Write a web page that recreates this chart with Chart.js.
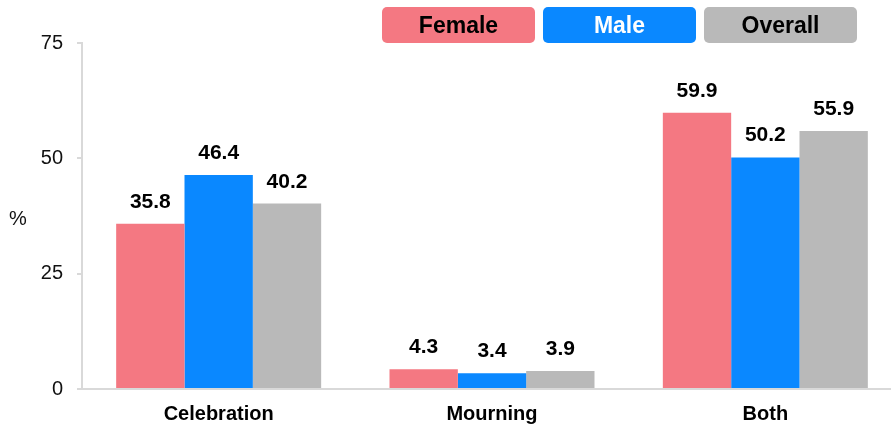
<!DOCTYPE html>
<html>
<head>
<meta charset="utf-8">
<script src="https://cdn.jsdelivr.net/npm/chart.js@4.4.0/dist/chart.umd.min.js"></script>
<style>
  body { margin: 0; overflow: hidden; background: #fff; font-family: "Liberation Sans", Arial, sans-serif; }
  #wrap { position: relative; width: 902px; height: 426px; }
  #legend { position: absolute; top: 7px; left: 382px; display: flex; gap: 8px; z-index: 2; }
  .key { width: 153px; height: 36px; line-height: 37px; border-radius: 5px; text-align: center;
         font-weight: bold; font-size: 23px; }
  #ytitle { position: absolute; left: 9px; top: 207px; font-size: 20px; color: #111; }
</style>
</head>
<body>
<div id="wrap">
  <div id="legend"></div>
  <div id="ytitle">%</div>
  <canvas id="myChart"></canvas>
</div>
<script>
const categories = ['Celebration', 'Mourning', 'Both'];
const female = [35.8, 4.3, 59.9];
const male = [46.4, 3.4, 50.2];
const overall = [40.2, 3.9, 55.9];
const yTicks = [0, 25, 50, 75];

const series = [
  { label: 'Female', data: female, color: '#f47882', text: '#000' },
  { label: 'Male', data: male, color: '#0a88ff', text: '#fff' },
  { label: 'Overall', data: overall, color: '#b9b9b9', text: '#000' }
];

// legend boxes
const legend = document.getElementById('legend');
series.forEach(s => {
  const d = document.createElement('div');
  d.className = 'key';
  d.style.background = s.color;
  d.style.color = s.text;
  d.textContent = s.label;
  legend.appendChild(d);
});

// value labels over the bars
const valueLabels = {
  id: 'valueLabels',
  afterDatasetsDraw(chart) {
    const ctx = chart.ctx;
    ctx.save();
    ctx.font = 'bold 21px "Liberation Sans", Arial, sans-serif';
    ctx.fillStyle = '#000';
    ctx.textAlign = 'center';
    ctx.textBaseline = 'alphabetic';
    chart.data.datasets.forEach((ds, i) => {
      chart.getDatasetMeta(i).data.forEach((bar, j) => {
        ctx.fillText(ds.data[j].toFixed(1), bar.x, bar.y - 16);
      });
    });
    ctx.restore();
  }
};

const ctx = document.getElementById('myChart').getContext('2d');
const chart = new Chart(ctx, {
  type: 'bar',
  data: {
    labels: categories,
    datasets: series.map(s => ({
      label: s.label,
      data: s.data,
      backgroundColor: s.color,
      borderWidth: 0,
      categoryPercentage: 0.75,
      barPercentage: 1
    }))
  },
  options: {
    responsive: true,
    maintainAspectRatio: false,
    animation: false,
    layout: { padding: { top: 43, right: 0, bottom: 0, left: 0 } },
    plugins: { legend: { display: false }, tooltip: { enabled: false } },
    scales: {
      x: {
        afterFit(scale) { scale.height = 37; },
        grid: { display: false },
        border: { color: '#d9d9d9', width: 2 },
        ticks: { color: '#000', padding: 5, font: { family: '"Liberation Sans", Arial', size: 20, weight: 'bold' } }
      },
      y: {
        min: 0,
        max: 75,
        afterFit(scale) { scale.width = 82; },
        afterBuildTicks(scale) { scale.ticks = yTicks.map(v => ({ value: v })); },
        grid: { drawOnChartArea: false, drawTicks: true, tickLength: 5, color: '#d9d9d9', lineWidth: 2 },
        border: { color: '#d9d9d9', width: 2 },
        ticks: { color: '#111', padding: 14, font: { family: '"Liberation Sans", Arial', size: 20 } }
      }
    }
  },
  plugins: [valueLabels]
});
</script>
</body>
</html>
